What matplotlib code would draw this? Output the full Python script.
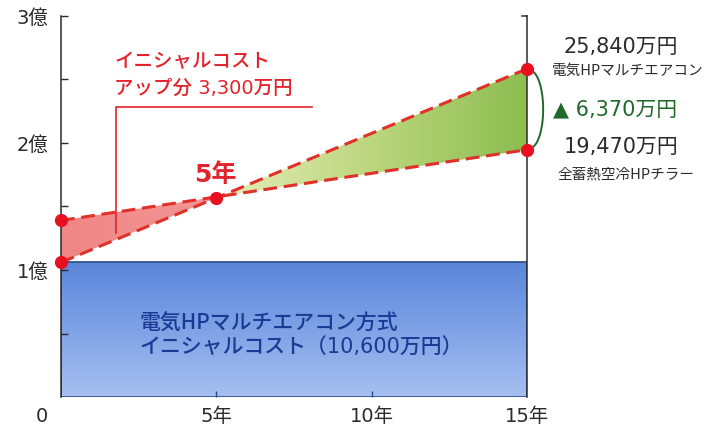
import numpy as np
import matplotlib
matplotlib.use("Agg")
import matplotlib.pyplot as plt
from matplotlib.colors import LinearSegmentedColormap
from matplotlib.path import Path

plt.rcParams['font.family'] = ['Noto Sans CJK JP', 'DejaVu Sans']
NUMFONT = ['DejaVu Sans', 'Noto Sans CJK JP']  # wider digits, CJK fallback

# cost curves in 万円 over years of operation
years = [0, 15]
multi_aircon = [10600, 25840]   # 電気HPマルチエアコン
hp_chiller = [13900, 19470]     # 全蓄熱空冷HPチラー
initial_cost = 10600
initial_gap = 3300
saving = 6370
payback_year = 5

y_ticks = [10000, 20000, 30000]
y_labels = ["1億", "2億", "3億"]
x_ticks = [5, 10, 15]
x_labels = ["5年", "10年", "15年"]

RED = "#e3232c"
DASH = "#e0302a"
GREEN_TXT = "#1f6a2a"
INK = "#2b2b2b"

fig = plt.figure(figsize=(7.16, 4.29), dpi=100)
ax = fig.add_axes([61 / 716, 32 / 429, 466 / 716, 381 / 429])
ax.set_xlim(0, 15)
ax.set_ylim(0, 30000)

t = np.linspace(0, 15, 400)
a = np.interp(t, years, multi_aircon)
c = np.interp(t, years, hp_chiller)


def gradient_fill(poly, colors, horizontal, y0, y1, z):
    cmap = LinearSegmentedColormap.from_list("g", colors)
    grad = np.linspace(0, 1, 256)
    arr = grad[None, :] if horizontal else grad[:, None]
    im = ax.imshow(arr, cmap=cmap, aspect="auto", origin="lower",
                   extent=[0, 15, y0, y1], zorder=z)
    clip = Path.make_compound_path(*poly.get_paths())
    im.set_clip_path(clip, ax.transData)
    poly.set_facecolor("none")
    poly.set_edgecolor("none")


# initial cost block
blue = ax.fill_between(years, 0, initial_cost, zorder=1)
gradient_fill(blue, ["#a6bff0", "#7fa2e6", "#5b86da"], False, 0, initial_cost, 1)
ax.fill_between(years, 0, initial_cost, facecolor="none",
                edgecolor="#2c4a86", lw=1.2, zorder=2)

# extra initial cost region and savings region
red = ax.fill_between(t, a, c, where=c >= a, interpolate=True, zorder=2)
gradient_fill(red, ["#f08686", "#f7b8b8"], True, 0, 30000, 2)
grn = ax.fill_between(t, a, c, where=a >= c, interpolate=True, zorder=2)
gradient_fill(grn, ["#f2f2d0", "#e6eeba", "#bcd67e", "#8dbd50"], True, 0, 30000, 2)
ax.set_xlim(0, 15)
ax.set_ylim(0, 30000)

for series in (multi_aircon, hp_chiller):
    ax.plot(years, series, color=DASH, lw=2.2, dashes=(4.5, 2.2), zorder=4)
    ax.plot(years, series, "o", color="#e8101e", ms=8.5, zorder=5, clip_on=False)
ax.plot([payback_year], [np.interp(payback_year, years, multi_aircon)], "o",
        color="#e8101e", ms=8.5, zorder=5)

# frame: left axis with inward ticks, right post at 15 years
for s in ("top", "right", "bottom"):
    ax.spines[s].set_visible(False)
ax.spines["left"].set_color(INK)
ax.spines["left"].set_linewidth(1.1)
ax.set_yticks(np.arange(5000, 30001, 5000))
ax.set_yticklabels(["" if v not in y_ticks else y_labels[y_ticks.index(v)]
                    for v in np.arange(5000, 30001, 5000)], family=NUMFONT)
ax.tick_params(axis="y", direction="in", length=5, width=1, color=INK,
               labelsize=14, labelcolor=INK, pad=9)
ax.set_xticks(x_ticks[:2])
ax.set_xticklabels([])
ax.tick_params(axis="x", direction="in", length=4, width=1, color="#2c4a86")
for xv, lab in zip(x_ticks, x_labels):
    ax.text(xv, -1500, lab, ha="center", va="center", fontsize=14, color=INK,
            family=NUMFONT)
ax.text(-0.6, -1500, "0", ha="center", va="center", fontsize=14, color=INK,
        family=NUMFONT, clip_on=False)
ax.plot([15, 15], [0, 30000], color=INK, lw=1.1, zorder=3, clip_on=False)
ax.plot([14.83, 15], [30000, 30000], color=INK, lw=1.1, zorder=3, clip_on=False)

# leader for the initial cost difference
ax.plot([1.77, 1.77, 8.08], [12900, 22800, 22800], color=RED, lw=1.2, zorder=3)
ax.text(1.72, 26400, "イニシャルコスト", color=RED, fontsize=14,
        fontweight="medium", ha="left", va="center")
ax.text(1.72, 24300, f"アップ分 {initial_gap:,}万円", color=RED, fontsize=14,
        fontweight="medium", ha="left", va="center", family=NUMFONT)
ax.text(4.95, 17500, f"{payback_year}年", color=RED, fontsize=18,
        fontweight="bold", ha="center", va="center", family=NUMFONT)

ax.text(2.52, 5750, "電気HPマルチエアコン方式", color="#1c3a94", fontsize=15,
        fontweight="medium", ha="left", va="center")
ax.text(2.52, 3850, f"イニシャルコスト（{initial_cost:,}万円）", color="#1c3a94",
        fontsize=15, fontweight="medium", ha="left", va="center", family=NUMFONT)

# end-of-period totals
ax.text(18.02, 27550, f"{multi_aircon[-1]:,}万円", color=INK, fontsize=15,
        ha="center", va="center", clip_on=False, family=NUMFONT)
ax.text(18.25, 25650, "電気HPマルチエアコン", color=INK, fontsize=10.5,
        ha="center", va="center", clip_on=False)
ax.text(17.85, 22650, f"▲ {saving:,}万円", color=GREEN_TXT, fontsize=15,
        ha="center", va="center", clip_on=False, family=NUMFONT)
ax.text(18.02, 19650, f"{hp_chiller[-1]:,}万円", color=INK, fontsize=15,
        ha="center", va="center", clip_on=False, family=NUMFONT)
ax.text(18.2, 17550, "全蓄熱空冷HPチラー", color=INK, fontsize=10.5,
        ha="center", va="center", clip_on=False)

# bracket between the two 15-year totals
mid = (multi_aircon[-1] + hp_chiller[-1]) / 2
half = (multi_aircon[-1] - hp_chiller[-1]) / 2 - 150
th = np.linspace(-np.pi / 2 * 0.97, np.pi / 2 * 0.97, 100)
ax.plot(15.1 + 0.42 * np.cos(th), mid + half * np.sin(th), color=GREEN_TXT,
        lw=1.4, clip_on=False, zorder=3)

fig.savefig("out.png", dpi=100)
